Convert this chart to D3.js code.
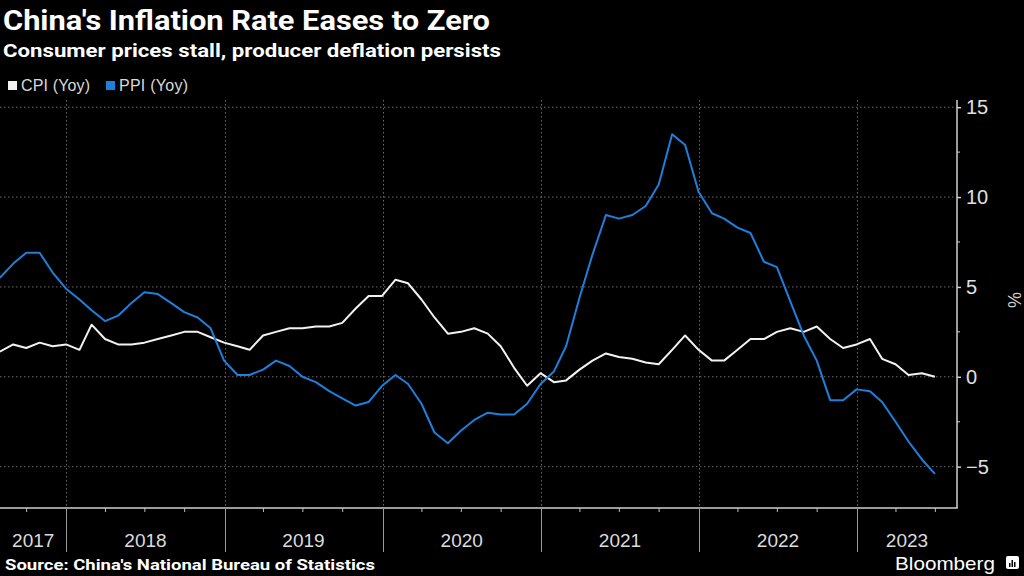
<!DOCTYPE html>
<html>
<head>
<meta charset="utf-8">
<script src="https://cdn.jsdelivr.net/npm/d3@7"></script>
<style>
body{margin:0;background:#000;}
svg{display:block;}
</style>
</head>
<body>
<svg id="chart" width="1024" height="576"></svg>
<script>
// monthly data, Jul 2017 .. Jun 2023
var startMonth = [2017, 6];
var cpi = [1.4,1.8,1.6,1.9,1.7,1.8,
  1.5,2.9,2.1,1.8,1.8,1.9,2.1,2.3,2.5,2.5,2.2,1.9,
  1.7,1.5,2.3,2.5,2.7,2.7,2.8,2.8,3.0,3.8,4.5,4.5,
  5.4,5.2,4.3,3.3,2.4,2.5,2.7,2.4,1.7,0.5,-0.5,0.2,
  -0.3,-0.2,0.4,0.9,1.3,1.1,1.0,0.8,0.7,1.5,2.3,1.5,
  0.9,0.9,1.5,2.1,2.1,2.5,2.7,2.5,2.8,2.1,1.6,1.8,
  2.1,1.0,0.7,0.1,0.2,0.0];
var ppi = [5.5,6.3,6.9,6.9,5.8,4.9,
  4.3,3.7,3.1,3.4,4.1,4.7,4.6,4.1,3.6,3.3,2.7,0.9,
  0.1,0.1,0.4,0.9,0.6,0.0,-0.3,-0.8,-1.2,-1.6,-1.4,-0.5,
  0.1,-0.4,-1.5,-3.1,-3.7,-3.0,-2.4,-2.0,-2.1,-2.1,-1.5,-0.4,
  0.3,1.7,4.4,6.8,9.0,8.8,9.0,9.5,10.7,13.5,12.9,10.3,
  9.1,8.8,8.3,8.0,6.4,6.1,4.2,2.3,0.9,-1.3,-1.3,-0.7,
  -0.8,-1.4,-2.5,-3.6,-4.6,-5.4];
var seriesNames = ["CPI (Yoy)", "PPI (Yoy)"];
var seriesColors = ["#f2f2f2", "#1f7fdc"];
var yTicks = [-5, 0, 5, 10, 15];
var years = [2017, 2018, 2019, 2020, 2021, 2022, 2023];

// month-end dates
var dates = cpi.map(function(v, i){
  return new Date(startMonth[0], startMonth[1] + i + 1, 0);
});

var svg = d3.select("#chart");
var plot = {left:0, right:957, top:100, bottom:508};

var x = d3.scaleTime()
  .domain([new Date(2017, 6, 31, 10), new Date(2023, 7, 20)])
  .range([plot.left, plot.right]);
var y = d3.scaleLinear()
  .domain([-7.3, 15.4])
  .range([plot.bottom, plot.top]);

// title block
svg.append("text").attr("x", 3).attr("y", 30)
  .attr("fill", "#fff").attr("font-family", "Roboto, 'Liberation Sans', sans-serif")
  .attr("font-weight", "bold").attr("font-size", 28)
  .attr("textLength", 487).attr("lengthAdjust", "spacingAndGlyphs")
  .text("China's Inflation Rate Eases to Zero");
svg.append("text").attr("x", 3).attr("y", 57)
  .attr("fill", "#fff").attr("font-family", "Roboto, 'Liberation Sans', sans-serif")
  .attr("font-weight", "bold").attr("font-size", 19)
  .attr("textLength", 498).attr("lengthAdjust", "spacingAndGlyphs")
  .text("Consumer prices stall, producer deflation persists");

// legend
var legendX = [8, 106];
seriesNames.forEach(function(n, i){
  svg.append("rect").attr("x", legendX[i]).attr("y", 81)
    .attr("width", 9).attr("height", 9).attr("fill", seriesColors[i]);
  svg.append("text").attr("x", legendX[i] + 13).attr("y", 91)
    .attr("fill", "#d9d9d9").attr("font-family", "'Liberation Sans Narrow', 'Liberation Sans', sans-serif")
    .attr("font-size", 16).attr("textLength", 69).attr("lengthAdjust", "spacing").text(n);
});

// gridlines
svg.append("g").selectAll("line").data(yTicks).enter().append("line")
  .attr("x1", plot.left).attr("x2", plot.right)
  .attr("y1", function(d){return y(d);}).attr("y2", function(d){return y(d);})
  .attr("stroke", "#6a6a6a").attr("stroke-width", 1).attr("stroke-dasharray", "1.5,2.5");
var yearStarts = years.slice(1).map(function(yr){return new Date(yr, 0, 1);});
svg.append("g").selectAll("line").data(yearStarts).enter().append("line")
  .attr("x1", function(d){return Math.round(x(d)) + 0.5;})
  .attr("x2", function(d){return Math.round(x(d)) + 0.5;})
  .attr("y1", plot.top).attr("y2", plot.bottom)
  .attr("stroke", "#6a6a6a").attr("stroke-width", 1).attr("stroke-dasharray", "1.5,2.5");

// right axis
var yAxis = d3.axisRight(y).tickValues(yTicks).tickSize(4).tickPadding(5);
var ga = svg.append("g").attr("transform", "translate(" + plot.right + ",0)").call(yAxis);
ga.select(".domain").attr("stroke", "#cfcfcf").attr("stroke-width", 1.5)
  .attr("d", "M0," + plot.top + "V" + plot.bottom);
ga.selectAll(".tick line").attr("stroke", "#cfcfcf").attr("stroke-width", 1.5);
ga.selectAll(".tick text").attr("fill", "#e0e0e0")
  .attr("font-family", "'Liberation Sans Narrow', 'Liberation Sans', sans-serif").attr("font-size", 20);
var minor = [-2.5, 2.5, 7.5, 12.5];
svg.append("g").selectAll("line").data(minor).enter().append("line")
  .attr("x1", plot.right).attr("x2", plot.right + 3)
  .attr("y1", function(d){return y(d);}).attr("y2", function(d){return y(d);})
  .attr("stroke", "#cfcfcf").attr("stroke-width", 1);
svg.append("text").attr("transform", "translate(1008,300) rotate(90)")
  .attr("text-anchor", "middle").attr("fill", "#d0d0d0")
  .attr("font-family", "'Liberation Sans', sans-serif").attr("font-size", 18).text("%");

// bottom axis
svg.append("line").attr("x1", plot.left).attr("x2", plot.right + 0.75)
  .attr("y1", plot.bottom).attr("y2", plot.bottom)
  .attr("stroke", "#cfcfcf").attr("stroke-width", 1.5);
var quarters = d3.timeMonths(new Date(2017, 9, 1), new Date(2023, 7, 1), 3)
  .filter(function(d){return d.getMonth() !== 0;});
svg.append("g").selectAll("line").data(quarters).enter().append("line")
  .attr("x1", function(d){return x(d);}).attr("x2", function(d){return x(d);})
  .attr("y1", plot.bottom).attr("y2", plot.bottom + 4)
  .attr("stroke", "#bdbdbd").attr("stroke-width", 1);
svg.append("g").selectAll("line").data(yearStarts).enter().append("line")
  .attr("x1", function(d){return Math.round(x(d)) + 0.5;})
  .attr("x2", function(d){return Math.round(x(d)) + 0.5;})
  .attr("y1", plot.bottom).attr("y2", 552)
  .attr("stroke", "#9a9a9a").attr("stroke-width", 1);
svg.append("g").selectAll("text").data(years).enter().append("text")
  .attr("x", function(yr){
    var a = Math.max(x(new Date(yr, 0, 1)), plot.left);
    var b = Math.min(x(new Date(yr + 1, 0, 1)), plot.right);
    return (a + b) / 2;
  })
  .attr("y", 547).attr("text-anchor", "middle").attr("fill", "#dcdcdc")
  .attr("font-family", "'Liberation Sans Narrow', 'Liberation Sans', sans-serif").attr("font-size", 19)
  .text(function(d){return d;});

// lines
var line = d3.line()
  .x(function(d, i){return x(dates[i]);})
  .y(function(d){return y(d);});
[cpi, ppi].forEach(function(s, i){
  svg.append("path").datum(s).attr("d", line)
    .attr("fill", "none").attr("stroke", seriesColors[i])
    .attr("stroke-width", 2).attr("stroke-linejoin", "round");
});

// footer
svg.append("text").attr("x", 5).attr("y", 570)
  .attr("fill", "#fff").attr("font-family", "Roboto, 'Liberation Sans', sans-serif")
  .attr("font-weight", "bold").attr("font-size", 15)
  .attr("textLength", 370).attr("lengthAdjust", "spacingAndGlyphs")
  .text("Source: China's National Bureau of Statistics");
svg.append("text").attr("x", 895).attr("y", 570)
  .attr("fill", "#fff").attr("font-family", "'Liberation Sans Narrow', 'Liberation Sans', sans-serif")
  .attr("font-size", 19).attr("textLength", 100).attr("lengthAdjust", "spacingAndGlyphs")
  .text("Bloomberg");
svg.append("rect").attr("x", 1006).attr("y", 556).attr("width", 13).attr("height", 13)
  .attr("rx", 2).attr("fill", "#fff");
[[1009, 563, 4], [1011.5, 560, 7], [1014, 562, 5]].forEach(function(b){
  svg.append("rect").attr("x", b[0]).attr("y", b[1]).attr("width", 1.5).attr("height", b[2]).attr("fill", "#000");
});
</script>
</body>
</html>
